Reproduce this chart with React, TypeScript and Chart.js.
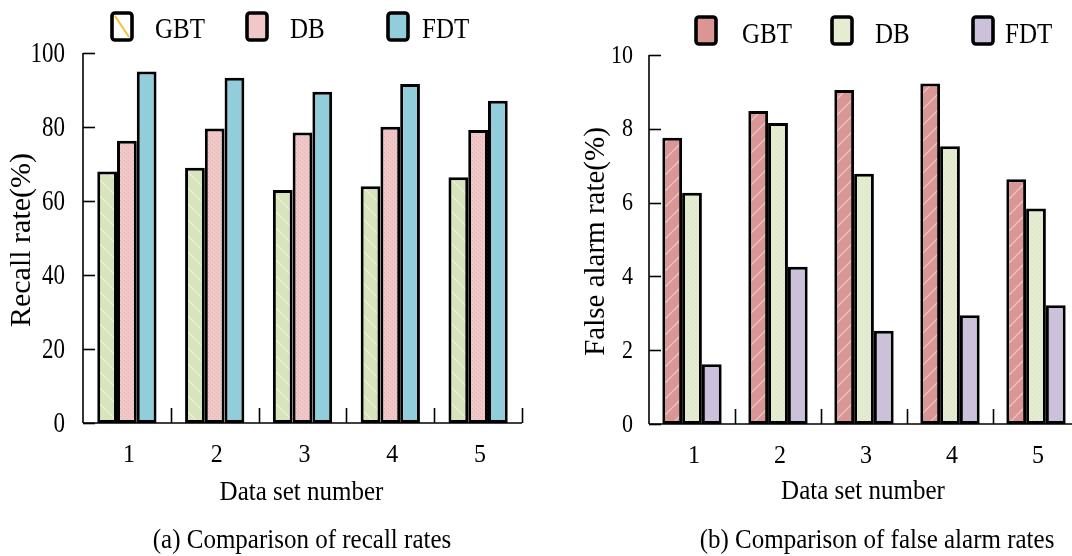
import React, { useEffect, useRef } from 'react';
import { Chart, registerables } from 'chart.js';

Chart.register(...registerables);

// ---------- data ----------
const categories = ['1', '2', '3', '4', '5'];
const seriesNames = ['GBT', 'DB', 'FDT'];

const recallGBT = [68, 69, 63, 64, 66.4];
const recallDB = [76.3, 79.6, 78.5, 80.1, 79.2];
const recallFDT = [95, 93.3, 89.5, 91.6, 87.1];

const falseGBT = [7.76, 8.48, 9.05, 9.23, 6.63];
const falseDB = [6.27, 8.16, 6.78, 7.53, 5.84];
const falseFDT = [1.62, 4.26, 2.53, 2.95, 3.22];

const recallTicks = [0, 20, 40, 60, 80, 100];
const falseTicks = [0, 2, 4, 6, 8, 10];

const FONT = "'Liberation Serif', 'Times New Roman', serif";

type Kind = 'hatchR' | 'hatchL' | 'dots' | 'plain';

function makePattern(base: string, kind: Kind, accent: string): CanvasPattern | string {
  if (kind === 'plain') return base;
  const s = kind === 'dots' ? 4 : 16;
  const c = document.createElement('canvas');
  c.width = s;
  c.height = s;
  const g = c.getContext('2d')!;
  g.fillStyle = base;
  g.fillRect(0, 0, s, s);
  if (kind === 'dots') {
    g.fillStyle = accent;
    g.fillRect(0, 0, 1, 1);
    g.fillRect(2, 2, 1, 1);
  } else {
    g.strokeStyle = accent;
    g.lineWidth = 1.3;
    g.beginPath();
    if (kind === 'hatchR') {
      g.moveTo(0, s); g.lineTo(s, 0);
      g.moveTo(-2, 2); g.lineTo(2, -2);
      g.moveTo(s - 2, s + 2); g.lineTo(s + 2, s - 2);
    } else {
      g.moveTo(0, 0); g.lineTo(s, s);
      g.moveTo(-2, s - 2); g.lineTo(2, s + 2);
      g.moveTo(s - 2, -2); g.lineTo(s + 2, 2);
    }
    g.stroke();
  }
  return g.createPattern(c, 'repeat') as CanvasPattern;
}

function drawText(
  ctx: CanvasRenderingContext2D,
  text: string,
  x: number,
  y: number,
  size: number,
  sy: number,
  align: CanvasTextAlign,
  baseline: CanvasTextBaseline,
  rotate = 0,
) {
  ctx.save();
  ctx.translate(x, y);
  if (rotate) ctx.rotate(rotate);
  ctx.scale(1, sy);
  ctx.font = `${size}px ${FONT}`;
  ctx.textAlign = align;
  ctx.textBaseline = baseline;
  ctx.fillStyle = '#000';
  ctx.fillText(text, 0, 0);
  ctx.restore();
}

interface LegendItem {
  x: number;
  fill: string;
  diag?: string;
  textX: number;
}

interface PanelCfg {
  values: number[][];
  fills: (CanvasPattern | string)[];
  max: number;
  step: number;
  ticks: number[];
  yWidth: number;
  padTop: number;
  padRight: number;
  padBottom: number;
  tickLabelRight: number;
  tickSize: number;
  tickSy: number;
  yTitle: string;
  yTitleX: number;
  yTitleSize: number;
  xTitle: string;
  xTitleBase: number;
  caption: string;
  captionX: number;
  xLabelBase: number;
  legend: LegendItem[];
  legendTop: number;
  legendBase: number;
  catPct: number;
}

function panelPlugin(cfg: PanelCfg) {
  return {
    id: 'panelDecor',
    afterDraw(chart: any) {
      const ctx: CanvasRenderingContext2D = chart.ctx;
      const area = chart.chartArea;
      const xs = chart.scales.x;
      const ys = chart.scales.y;
      ctx.save();
      ctx.strokeStyle = '#000';
      ctx.fillStyle = '#000';
      ctx.lineWidth = 1.6;
      // y axis line
      ctx.beginPath();
      ctx.moveTo(area.left, area.top);
      ctx.lineTo(area.left, area.bottom);
      ctx.stroke();
      // y ticks inward + labels
      cfg.ticks.forEach((t) => {
        const p = ys.getPixelForValue(t);
        const py = Math.round(p) + 0.5;
        ctx.beginPath();
        ctx.moveTo(area.left, py);
        ctx.lineTo(area.left + 12, py);
        ctx.stroke();
        drawText(ctx, String(t), cfg.tickLabelRight, p + 1, cfg.tickSize, cfg.tickSy, 'right', 'middle');
      });
      // x axis line
      ctx.beginPath();
      ctx.moveTo(area.left, area.bottom);
      ctx.lineTo(area.right, area.bottom);
      ctx.stroke();
      // category boundary ticks (upward)
      const n = categories.length;
      for (let i = 1; i <= n; i++) {
        const a = xs.getPixelForValue(i - 1);
        const b = i < n ? xs.getPixelForValue(i) : a + (a - xs.getPixelForValue(i - 2));
        const bx = Math.round((a + b) / 2) + 0.5;
        ctx.beginPath();
        ctx.moveTo(bx, area.bottom);
        ctx.lineTo(bx, area.bottom - 15);
        ctx.stroke();
      }
      // x tick labels
      categories.forEach((c, i) => {
        drawText(ctx, c, xs.getPixelForValue(i) + 2, cfg.xLabelBase, 24, 1.05, 'center', 'alphabetic');
      });
      // x title
      drawText(ctx, cfg.xTitle, (area.left + area.right) / 2 - 1, cfg.xTitleBase, 25, 1.1, 'center', 'alphabetic');
      // caption
      drawText(ctx, cfg.caption, cfg.captionX, 548, 25, 1.1, 'center', 'alphabetic');
      // y title
      drawText(ctx, cfg.yTitle, cfg.yTitleX, (area.top + area.bottom) / 2 + 2, cfg.yTitleSize, 1.0, 'center', 'middle', -Math.PI / 2);
      // legend
      cfg.legend.forEach((item, i) => {
        const w = 20;
        const h = 27;
        const top = cfg.legendTop;
        ctx.beginPath();
        (ctx as any).roundRect(item.x, top, w, h, 3);
        ctx.fillStyle = item.fill;
        ctx.fill();
        if (item.diag) {
          ctx.save();
          ctx.strokeStyle = item.diag;
          ctx.lineWidth = 2;
          ctx.beginPath();
          ctx.moveTo(item.x + 3, top + 3);
          ctx.lineTo(item.x + w - 3, top + h - 3);
          ctx.stroke();
          ctx.restore();
        }
        ctx.lineWidth = 3.6;
        ctx.strokeStyle = '#000';
        ctx.beginPath();
        (ctx as any).roundRect(item.x, top, w, h, 3);
        ctx.stroke();
        drawText(ctx, seriesNames[i], item.textX, cfg.legendBase, 25, 1.2, 'left', 'alphabetic');
      });
      ctx.restore();
    },
  };
}

function buildChart(canvas: HTMLCanvasElement, cfg: PanelCfg) {
  return new Chart(canvas, {
    type: 'bar',
    data: {
      labels: categories,
      datasets: cfg.values.map((vals, i) => ({
        label: seriesNames[i],
        data: vals,
        backgroundColor: cfg.fills[i] as any,
        borderColor: '#000',
        borderWidth: 3,
        borderSkipped: false,
        barPercentage: 1,
        categoryPercentage: cfg.catPct,
      })),
    },
    options: {
      responsive: false,
      animation: false,
      devicePixelRatio: 1,
      layout: {
        padding: { top: cfg.padTop, right: cfg.padRight, bottom: cfg.padBottom, left: 0 },
      },
      plugins: {
        legend: { display: false },
        tooltip: { enabled: false },
        title: { display: false },
      },
      scales: {
        x: {
          display: false,
          offset: true,
          grid: { display: false },
        },
        y: {
          min: 0,
          max: cfg.max,
          grid: { display: false, drawTicks: false },
          border: { display: false },
          ticks: { stepSize: cfg.step, display: false },
          afterFit: (scale: any) => {
            scale.width = cfg.yWidth;
          },
        },
      },
    },
    plugins: [panelPlugin(cfg) as any],
  });
}

export default function App() {
  const leftRef = useRef<HTMLCanvasElement>(null);
  const rightRef = useRef<HTMLCanvasElement>(null);

  useEffect(() => {
    const leftFills = [
      makePattern('#d8e4bc', 'hatchL', 'rgba(255,255,255,0.45)'),
      makePattern('#f1c8c8', 'dots', '#e6b4b4'),
      makePattern('#92cddc', 'plain', ''),
    ];
    const rightFills = [
      makePattern('#d99694', 'hatchR', 'rgba(255,255,255,0.45)'),
      makePattern('#e4ecd1', 'dots', '#d6e2bc'),
      makePattern('#ccc1da', 'plain', ''),
    ];
    const left = buildChart(leftRef.current!, {
      values: [recallGBT, recallDB, recallFDT],
      fills: leftFills,
      max: 100,
      step: 20,
      ticks: recallTicks,
      yWidth: 83,
      padTop: 53,
      padRight: 14,
      padBottom: 133,
      tickLabelRight: 65,
      tickSize: 23,
      tickSy: 1.3,
      yTitle: 'Recall rate(%)',
      yTitleX: 22,
      yTitleSize: 30,
      xTitle: 'Data set number',
      xTitleBase: 500,
      caption: '(a) Comparison of recall rates',
      captionX: 302,
      xLabelBase: 462,
      legend: [
        { x: 112, fill: '#ffffff', diag: '#f2c230', textX: 155 },
        { x: 247, fill: '#f1c8c8', textX: 290 },
        { x: 388, fill: '#92cddc', textX: 422 },
      ],
      legendTop: 13,
      legendBase: 38,
      catPct: 0.675,
    });
    const right = buildChart(rightRef.current!, {
      values: [falseGBT, falseDB, falseFDT],
      fills: rightFills,
      max: 10,
      step: 2,
      ticks: falseTicks,
      yWidth: 113,
      padTop: 55,
      padRight: 13,
      padBottom: 132,
      tickLabelRight: 97,
      tickSize: 22,
      tickSy: 1.15,
      yTitle: 'False alarm rate(%)',
      yTitleX: 60,
      yTitleSize: 29,
      xTitle: 'Data set number',
      xTitleBase: 499,
      caption: '(b) Comparison of false alarm rates',
      captionX: 341,
      xLabelBase: 463,
      legend: [
        { x: 160, fill: '#d99694', textX: 206 },
        { x: 296, fill: '#e4ecd1', textX: 339 },
        { x: 437, fill: '#ccc1da', textX: 469 },
      ],
      legendTop: 17,
      legendBase: 43,
      catPct: 0.69,
    });
    return () => {
      left.destroy();
      right.destroy();
    };
  }, []);

  return (
    <div
      style={{
        position: 'fixed',
        left: 0,
        top: 0,
        width: 1072,
        height: 556,
        overflow: 'hidden',
        background: '#fff',
      }}
    >
      <canvas
        ref={leftRef}
        width={536}
        height={556}
        style={{ position: 'absolute', left: 0, top: 0, width: 536, height: 556 }}
      />
      <canvas
        ref={rightRef}
        width={556}
        height={556}
        style={{ position: 'absolute', left: 536, top: 0, width: 556, height: 556 }}
      />
    </div>
  );
}
